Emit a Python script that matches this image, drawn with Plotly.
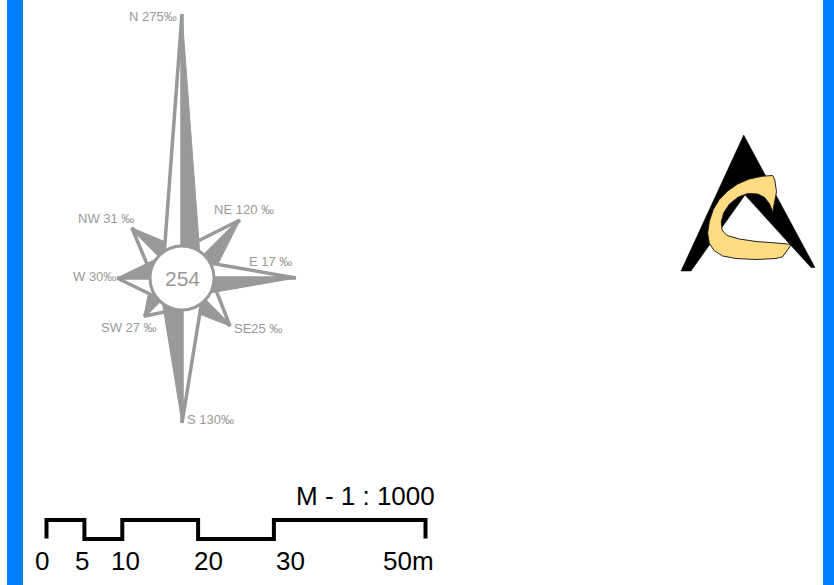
import numpy as np
import plotly.graph_objects as go

# ---------------- data ----------------
directions = ["N", "NE", "E", "SE", "S", "SW", "W", "NW"]
values = [275, 120, 17, 25, 130, 27, 30, 31]
label_texts = ["N 275‰", "NE 120 ‰", "E 17 ‰", "SE25 ‰", "S 130‰", "SW 27 ‰", "W 30‰", "NW 31 ‰"]
center_value = 254
scale_ticks = [0, 5, 10, 20, 30, 50]
scale_tick_labels = ["0", "5", "10", "20", "30", "50m"]
scale_title = "M - 1 : 1000"

# ---------------- geometry / style ----------------
W, H = 834, 585
GRAY = "#999999"
ROSE_C = np.array([182.0, 278.0])
CIRCLE_R = 32
R_BASE = 22
arm_reach = [264, 82, 114, 68, 145, 54, 65, 71]          # drawn arm length (px)
arm_half_width = [18, 20, 16, 20, 20, 21, 21, 20]        # half width at base (px)
# label placement relative to arm tip: (dx, dy, xanchor, yanchor)
label_place = [(-3, 2, "right", "middle"), (4, -11, "center", "middle"),
               (-2, -17, "right", "middle"), (2, 2, "left", "middle"),
               (3, -4, "left", "middle"), (-15, 11, "center", "middle"),
               (1, -2, "right", "middle"), (4, -9, "right", "middle")]

# scale bar: metres -> px
SB_X0, SB_K = 46.5, 7.58
SB_TOP, SB_BOT = 520, 538.5
tick_label_dx = [-4.5, -2.7, 3.5, 10.2, 16.1, -17.2]
TICK_LABEL_Y = 561

FONT = "Liberation Sans, Arial, sans-serif"

fig = go.Figure()


def add_poly(pts, fill, line_color, line_width):
    pts = np.vstack([pts, pts[:1]])
    fig.add_trace(go.Scatter(x=pts[:, 0], y=pts[:, 1], mode="lines", fill="toself",
                             fillcolor=fill, line=dict(color=line_color, width=line_width),
                             hoverinfo="skip", showlegend=False))


angles = [45 * i for i in range(len(directions))]
tips = {}
order = [1, 3, 5, 7, 0, 2, 4, 6]  # diagonals first, cardinals on top
for i in order:
    t = np.radians(angles[i])
    u = np.array([np.sin(t), -np.cos(t)])
    p = np.array([np.cos(t), np.sin(t)])
    tip = ROSE_C + u * arm_reach[i]
    b0 = ROSE_C + u * R_BASE
    bcw = b0 + p * arm_half_width[i]
    bccw = b0 - p * arm_half_width[i]
    tips[i] = tip
    add_poly(np.array([tip, bccw, b0]), "white", GRAY, 3.5)
    add_poly(np.array([tip, b0, bcw]), GRAY, GRAY, 1)

annotations = []
for i, txt in enumerate(label_texts):
    dx, dy, xa, ya = label_place[i]
    annotations.append(dict(x=tips[i][0] + dx, y=tips[i][1] + dy, text=txt, showarrow=False,
                            xanchor=xa, yanchor=ya, font=dict(family=FONT, size=13, color=GRAY)))
annotations.append(dict(x=ROSE_C[0], y=ROSE_C[1], text=str(center_value), showarrow=False,
                        xanchor="center", yanchor="middle",
                        font=dict(family="Liberation Sans Narrow, Liberation Sans, Arial", size=21, color=GRAY)))

# ---------------- scale bar ----------------
def m2px(v):
    return SB_X0 + SB_K * v

sx, sy = [m2px(scale_ticks[0])], [SB_BOT]
level = SB_TOP
for k in range(len(scale_ticks) - 1):
    sx += [m2px(scale_ticks[k]), m2px(scale_ticks[k + 1])]
    sy += [level, level]
    level = SB_BOT + 0.5 if level == SB_TOP else SB_TOP
sx.append(m2px(scale_ticks[-1]))
sy.append(SB_BOT)
fig.add_trace(go.Scatter(x=sx, y=sy, mode="lines", line=dict(color="black", width=4),
                         hoverinfo="skip", showlegend=False))

for v, lab, dx in zip(scale_ticks, scale_tick_labels, tick_label_dx):
    annotations.append(dict(x=m2px(v) + dx, y=TICK_LABEL_Y, text=lab, showarrow=False,
                            xanchor="center", yanchor="middle",
                            font=dict(family=FONT, size=26, color="black")))
annotations.append(dict(x=437, y=496, text=scale_title, showarrow=False, xanchor="right",
                        yanchor="middle", font=dict(family=FONT, size=26, color="black")))

# ---------------- logo ----------------
chevron = np.array([(743.7, 135), (681, 271), (691, 271), (745, 195), (811, 267.5), (815, 267.5)])
add_poly(chevron, "black", "black", 0.5)
c_shape = np.array([
    (772.7, 175.5), (762.7, 176.2), (749.3, 179), (737.7, 184), (727.7, 191), (719.3, 199.5),
    (713.3, 209.5), (709.3, 221.5), (707.7, 233.3), (709.3, 243.3), (714.3, 250.7), (722.7, 256),
    (736, 258.5), (756, 259.5), (776, 258.5), (782.7, 256.7), (791, 245),
    (787.7, 244), (776, 243), (756, 241.5), (739.3, 239), (727, 235.5), (722, 230),
    (721.3, 221.7), (723.7, 212.7), (729.5, 204), (738, 197.2), (747.7, 193.5), (757.7, 194),
    (764.3, 197.2), (769.3, 203.5), (772.7, 211.7), (776.5, 191.7), (774.8, 180)])
add_poly(c_shape, "#FFDC82", "#222222", 1)

shapes = [
    dict(type="circle", xref="x", yref="y", x0=ROSE_C[0] - CIRCLE_R, x1=ROSE_C[0] + CIRCLE_R,
         y0=ROSE_C[1] - CIRCLE_R, y1=ROSE_C[1] + CIRCLE_R, fillcolor="white",
         line=dict(color=GRAY, width=3), layer="above"),
    dict(type="rect", xref="x", yref="y", x0=7, x1=23, y0=0, y1=H, fillcolor="#007FFF",
         line=dict(width=0), layer="above"),
    dict(type="rect", xref="x", yref="y", x0=823, x1=W, y0=0, y1=H, fillcolor="#007FFF",
         line=dict(width=0), layer="above"),
]

fig.update_layout(
    width=W, height=H, margin=dict(l=0, r=0, t=0, b=0, pad=0),
    paper_bgcolor="white", plot_bgcolor="white", showlegend=False,
    xaxis=dict(range=[0, W], visible=False, fixedrange=True),
    yaxis=dict(range=[H, 0], visible=False, fixedrange=True),
    annotations=annotations, shapes=shapes,
)
# remove the default page margin so figure pixels line up with the page
fig.write_html("out.html", config={"displayModeBar": False},
               post_script="document.body.style.margin='0';document.body.style.overflow='hidden';")
